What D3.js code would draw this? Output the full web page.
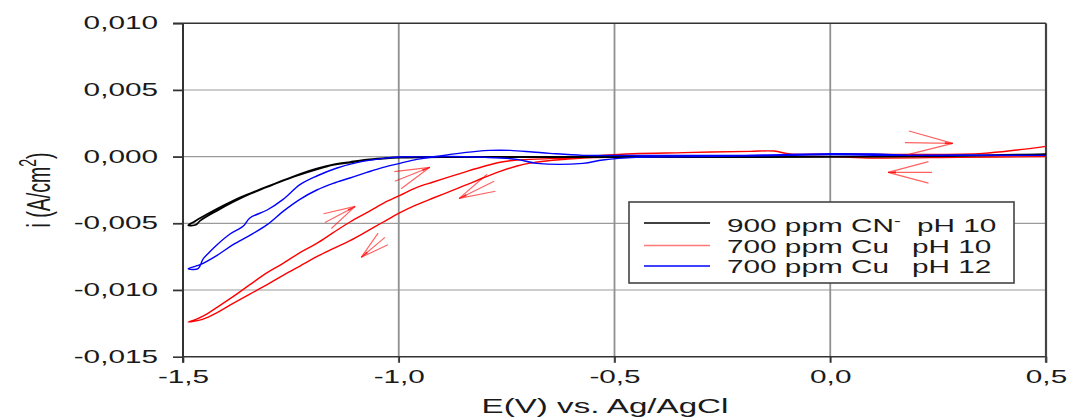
<!DOCTYPE html>
<html>
<head>
<meta charset="utf-8">
<script src="https://cdn.jsdelivr.net/npm/d3@7"></script>
<style>
  html, body { margin: 0; padding: 0; background: #fff; }
  svg { display: block; font-family: "Liberation Sans", Arial, sans-serif; }
</style>
</head>
<body>
<svg id="chart" width="1069" height="418"></svg>
<script>
// Cyclic voltammograms, E (V vs. Ag/AgCl) against current density i (A/cm2).
// Each series is listed in scan order: 0.5 V -> -1.5 V -> 0.5 V.
const cyanide900pH10 = [
  [0.5, 0.00017], [0.45, 0.00015], [0.4, 0.00012], [0.3, 0.00006], [0.2, 0.00002], [0.0, -0.00002],
  [-0.3, -0.00004], [-0.6, -0.00004], [-0.9, -0.00003], [-0.997, -0.00008], [-1.036, -0.00015],
  [-1.074, -0.00025], [-1.113, -0.00045], [-1.152, -0.00062], [-1.19, -0.00095], [-1.229, -0.00135],
  [-1.268, -0.0018], [-1.305, -0.00225], [-1.345, -0.00276], [-1.384, -0.0033], [-1.421, -0.0039],
  [-1.46, -0.0046], [-1.475, -0.0049], [-1.488, -0.00515],
  [-1.47, -0.0051], [-1.46, -0.0048], [-1.421, -0.00405], [-1.384, -0.0034], [-1.345, -0.0028],
  [-1.305, -0.00228], [-1.268, -0.00178], [-1.229, -0.0013], [-1.19, -0.0009], [-1.152, -0.0006],
  [-1.113, -0.0004], [-1.074, -0.00022], [-1.036, -0.00012], [-0.997, -0.00005], [-0.9, -0.00002],
  [-0.6, -0.00002], [-0.3, 0.0], [0.0, 0.0], [0.2, 0.00003], [0.3, 0.00008], [0.4, 0.00013], [0.5, 0.00018]
];

const copper700pH10 = [
  [0.5, 0.0], [0.3, -0.00005], [0.1, -0.0001], [0.0, 0.0], [-0.1, 0.0], [-0.3, -0.00005],
  [-0.5, -0.00005], [-0.573, -0.0001], [-0.65, -0.0003], [-0.689, -0.00045], [-0.726, -0.0007],
  [-0.765, -0.0011], [-0.805, -0.0016], [-0.842, -0.0021], [-0.881, -0.0026], [-0.92, -0.0031],
  [-0.958, -0.0036], [-0.997, -0.0042], [-1.036, -0.0049], [-1.074, -0.0056], [-1.113, -0.0063],
  [-1.152, -0.0069], [-1.19, -0.0075], [-1.229, -0.0082], [-1.268, -0.0089], [-1.305, -0.0096],
  [-1.345, -0.0103], [-1.384, -0.011], [-1.421, -0.0117], [-1.455, -0.0122], [-1.488, -0.0124],
  [-1.47, -0.0122], [-1.445, -0.0118], [-1.421, -0.0113], [-1.384, -0.0105], [-1.345, -0.0096],
  [-1.305, -0.0087], [-1.268, -0.0080], [-1.229, -0.0072], [-1.19, -0.0065], [-1.152, -0.0057],
  [-1.113, -0.0049], [-1.074, -0.0042], [-1.036, -0.0035], [-0.997, -0.0029], [-0.958, -0.0023],
  [-0.92, -0.0019], [-0.881, -0.0015], [-0.842, -0.0011], [-0.80, -0.0007], [-0.765, -0.00042],
  [-0.726, -0.00025], [-0.65, -0.00015], [-0.573, 0.0], [-0.457, 0.00022], [-0.34, 0.0003],
  [-0.186, 0.0004], [-0.13, 0.00042], [-0.093, 0.0002], [0.0, 0.0002], [0.2, 0.00017],
  [0.354, 0.00025], [0.433, 0.0005], [0.5, 0.00077]
];

const copper700pH12 = [
  [0.5, 0.0001], [0.3, 0.00012], [0.15, 0.0001], [0.0, 0.00015], [-0.1, 0.0001], [-0.3, 0.0],
  [-0.45, -0.00005], [-0.527, -0.00025], [-0.573, -0.0005], [-0.68, -0.0005], [-0.726, -0.0002],
  [-0.8, -0.00005], [-0.904, 0.0], [-0.958, -0.0002], [-0.997, -0.0005], [-1.036, -0.0008],
  [-1.074, -0.00118], [-1.113, -0.0016], [-1.152, -0.002], [-1.19, -0.0025], [-1.229, -0.0032],
  [-1.268, -0.0041], [-1.305, -0.0051], [-1.345, -0.0059], [-1.384, -0.0066], [-1.421, -0.0074],
  [-1.46, -0.0081], [-1.488, -0.0084],
  [-1.465, -0.0084], [-1.454, -0.0077], [-1.44, -0.0072], [-1.421, -0.0066], [-1.391, -0.0058],
  [-1.36, -0.0052], [-1.345, -0.0046], [-1.305, -0.004], [-1.268, -0.0032], [-1.229, -0.0021],
  [-1.19, -0.00145], [-1.143, -0.00085], [-1.097, -0.00045], [-1.036, -0.00013], [-0.997, -0.00002],
  [-0.92, 0.0], [-0.881, 0.00017], [-0.82, 0.0004], [-0.789, 0.00047], [-0.742, 0.00047],
  [-0.69, 0.00035], [-0.65, 0.00025], [-0.573, 0.0001], [-0.4, 0.0001], [-0.2, 0.0001],
  [0.0, 0.00022], [0.1, 0.0002], [0.2, 0.0001], [0.35, 0.0001], [0.5, 0.0001]
];

// Scan-direction arrows: tip and tail in data units
const arrowTips  = [[-0.928, -0.0008], [-1.101, -0.00373], [-0.860, -0.00313], [-1.087, -0.00755], [0.284, 0.0010], [0.134, -0.00118]];
const arrowTails = [[-1.009, -0.00185], [-1.171, -0.00493], [-0.779, -0.00185], [-1.032, -0.00605], [0.173, 0.00105], [0.236, -0.00118]];

const xTicks = [-1.5, -1.0, -0.5, 0.0, 0.5];
const yTicks = [-0.015, -0.010, -0.005, 0.000, 0.005, 0.010];

const seriesNames = ["900 ppm CN", "700 ppm Cu", "700 ppm Cu"];
const seriesPH = ["pH 10", "pH 10", "pH 12"];
const seriesColors = ["#000000", "#ff0000", "#0000ff"];
const legendColors = ["#000000", "#ff7a7a", "#0000ff"];
const seriesData = [cyanide900pH10, copper700pH10, copper700pH12];

const SX = 1.7;   // horizontal stretch of all lettering
const svg = d3.select("#chart");
const x = d3.scaleLinear().domain([-1.5, 0.5]).range([183, 1046]);
const y = d3.scaleLinear().domain([-0.015, 0.010]).range([356.7, 23.3]);
const [x0, x1] = x.range();
const [yb, yt] = y.range();

const comma = f => v => f(v).replace(".", ",").replace("\u2212", "-");

// grid
const grid = svg.append("g");
grid.selectAll(".hg").data(yTicks.slice(1, -1)).join("line")
  .attr("x1", x0 - 10).attr("x2", x1).attr("y1", d => y(d)).attr("y2", d => y(d))
  .attr("stroke", "#9a9a9a").attr("stroke-width", 1.2);
grid.selectAll(".vg").data(xTicks.slice(1, -1)).join("line")
  .attr("x1", d => x(d)).attr("x2", d => x(d)).attr("y1", yt).attr("y2", yb + 6)
  .attr("stroke", "#8f8f8f").attr("stroke-width", 1.8);

// axes
const yAxis = svg.append("g").attr("transform", `translate(${x0},0)`)
  .call(d3.axisLeft(y).tickValues(yTicks).tickSize(10).tickPadding(15).tickFormat(comma(d3.format(".3f"))));
const xAxis = svg.append("g").attr("transform", `translate(0,${yb})`)
  .call(d3.axisBottom(x).tickValues(xTicks).tickSize(6).tickPadding(8).tickFormat(comma(d3.format(".1f"))));
[yAxis, xAxis].forEach(g => {
  g.select(".domain").remove();
  g.selectAll(".tick line").attr("stroke", "#333").attr("stroke-width", 1.6);
  g.selectAll("text").attr("fill", "#1a1a1a").style("font-size", "17.5px")
    .attr("font-family", "'Liberation Sans', Arial, sans-serif");
});
yAxis.selectAll("text").attr("x", -25 / SX).attr("transform", `scale(${SX},1)`);
xAxis.selectAll("text").attr("transform", `scale(${SX},1)`);

// frame
const frame = svg.append("g").attr("fill", "none").attr("stroke", "#333");
frame.append("line").attr("x1", x0).attr("x2", x0).attr("y1", yt).attr("y2", yb + 6).attr("stroke-width", 2);
frame.append("line").attr("x1", x0).attr("x2", x1).attr("y1", yb).attr("y2", yb).attr("stroke-width", 1.6);
frame.append("line").attr("x1", x0 - 10).attr("x2", x1).attr("y1", yt).attr("y2", yt).attr("stroke-width", 1.6);
frame.append("line").attr("x1", x1).attr("x2", x1).attr("y1", yt).attr("y2", yb + 6).attr("stroke-width", 2.2).attr("stroke", "#444");

// curves
const line = d3.line().x(d => x(d[0])).y(d => y(d[1])).curve(d3.curveCatmullRom.alpha(0.5));
const drawOrder = [1, 0, 2];
drawOrder.forEach(k => {
  svg.append("path").datum(seriesData[k]).attr("d", line)
    .attr("fill", "none").attr("stroke", seriesColors[k])
    .attr("stroke-width", k === 0 ? 1.7 : 1.4).attr("stroke-linejoin", "round");
});

// scan-direction arrows
const arrows = svg.append("g").attr("stroke", "rgba(255,0,0,0.62)").attr("stroke-width", 1.15).attr("fill", "none");
arrowTips.forEach((tipD, k) => {
  const tx = x(tipD[0]), ty = y(tipD[1]);
  const bx = x(arrowTails[k][0]), by = y(arrowTails[k][1]);
  const ang = Math.atan2(by - ty, bx - tx);
  const L = Math.hypot(bx - tx, by - ty);
  [[-0.26, 0.95], [0, 1.0], [0.26, 0.95]].forEach(([da, f]) => {
    arrows.append("line").attr("x1", tx).attr("y1", ty)
      .attr("x2", tx + Math.cos(ang + da) * L * f).attr("y2", ty + Math.sin(ang + da) * L * f);
  });
  const h = 8, w = 0.14;
  arrows.append("path")
    .attr("d", `M${tx},${ty}L${tx + Math.cos(ang + w) * h},${ty + Math.sin(ang + w) * h}L${tx + Math.cos(ang - w) * h},${ty + Math.sin(ang - w) * h}Z`)
    .attr("fill", "rgba(255,0,0,0.75)").attr("stroke", "none");
});

// axis titles
svg.append("text").attr("transform", `translate(605,413) scale(${SX},1)`)
  .attr("text-anchor", "middle").style("font-size", "19.5px").attr("fill", "#1a1a1a")
  .text("E(V) vs. Ag/AgCl");
const yTitle = svg.append("text").attr("transform", `translate(50,190) scale(${SX},1) rotate(-90)`)
  .attr("text-anchor", "middle").style("font-size", "19.5px").attr("fill", "#1a1a1a");
yTitle.append("tspan").text("i (A/cm");
yTitle.append("tspan").attr("dy", -8).style("font-size", "14px").text("2");
yTitle.append("tspan").attr("dy", 8).text(")");

// legend
const legend = svg.append("g");
legend.append("rect").attr("x", 629).attr("y", 202).attr("width", 385).attr("height", 81)
  .attr("fill", "#fff").attr("stroke", "#444").attr("stroke-width", 1.6);
const rowY = [223, 245.5, 266];
const baseY = [232, 253, 273];
const phX = [917, 912, 912];
seriesNames.forEach((name, k) => {
  legend.append("line").attr("x1", 644).attr("x2", 710).attr("y1", rowY[k]).attr("y2", rowY[k])
    .attr("stroke", legendColors[k]).attr("stroke-width", 1.3);
  const t = legend.append("text").attr("transform", `translate(727,${baseY[k]}) scale(${SX},1)`)
    .style("font-size", "17.5px").attr("fill", "#1a1a1a");
  t.append("tspan").text(name);
  if (k === 0) t.append("tspan").attr("dy", -7).style("font-size", "12px").text("-");
  legend.append("text").attr("transform", `translate(${phX[k]},${baseY[k]}) scale(${SX},1)`)
    .style("font-size", "17.5px").attr("fill", "#1a1a1a").text(seriesPH[k]);
});
</script>
</body>
</html>
